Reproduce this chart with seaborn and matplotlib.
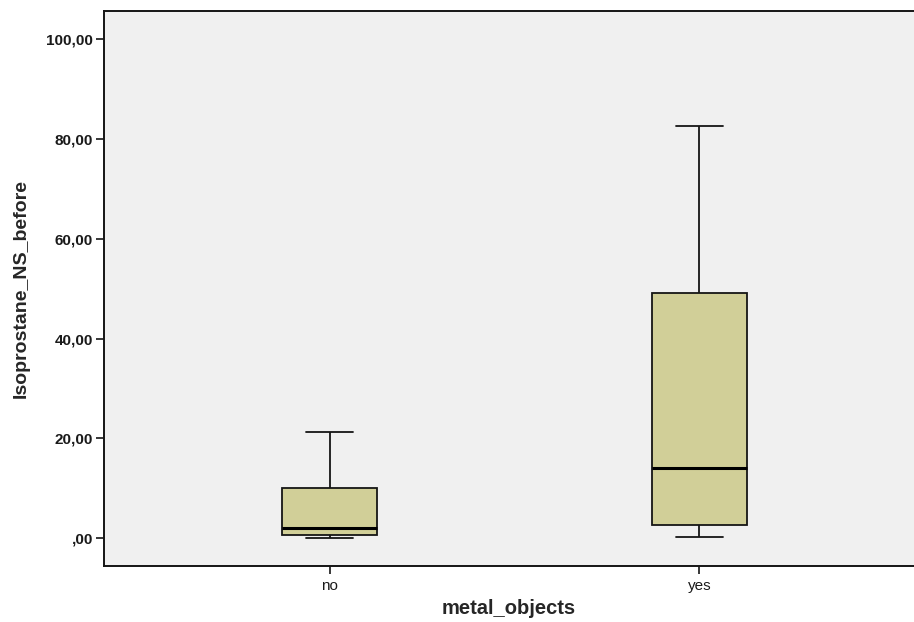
import numpy as np
import pandas as pd
import matplotlib
matplotlib.use("Agg")
import matplotlib.pyplot as plt
import seaborn as sns

# ================= DATA =================
# five-number summaries: min, Q1, median, Q3, max
groups = ["no", "yes"]
no_values = [0.0, 0.6, 2.0, 10.0, 21.2]
yes_values = [0.2, 2.6, 14.0, 49.1, 82.6]
y_ticks = [0, 20, 40, 60, 80, 100]
y_tick_labels = [",00", "20,00", "40,00", "60,00", "80,00", "100,00"]

df = pd.DataFrame({
    "metal_objects": ["no"] * len(no_values) + ["yes"] * len(yes_values),
    "Isoprostane_NS_before": no_values + yes_values,
})

# ================= STYLE =================
sns.set_style("white")
plt.rcParams["font.family"] = ["Liberation Sans", "DejaVu Sans"]

BOX_COLOR = "#D1CF98"
BG_COLOR = "#F0F0F0"
LINE_COLOR = "#151515"

fig = plt.figure(figsize=(9.14, 6.22), dpi=100)
ax = fig.add_axes([0.1138, 0.090, 0.8862, 0.892])
ax.set_facecolor(BG_COLOR)

sns.boxplot(
    data=df, x="metal_objects", y="Isoprostane_NS_before",
    order=groups, whis=np.inf, width=0.255,
    color=BOX_COLOR, saturation=1, linecolor=LINE_COLOR, linewidth=1.3,
    medianprops={"color": "black", "linewidth": 2.2},
    ax=ax,
)

ax.set_xlim(-0.61, 1.58)
ax.set_ylim(-5.6, 105.6)
ax.set_yticks(y_ticks)
ax.set_yticklabels(y_tick_labels)

ax.tick_params(axis="both", direction="out", length=6, width=1.2,
               color=LINE_COLOR, labelsize=11, labelcolor="#1A1A1A")
ax.tick_params(axis="y", left=True, pad=2)
ax.tick_params(axis="x", bottom=True, pad=3)
for lbl in ax.get_yticklabels():
    lbl.set_fontweight("bold")

for side in ["left", "bottom", "top"]:
    ax.spines[side].set_visible(True)
    ax.spines[side].set_color(LINE_COLOR)
    ax.spines[side].set_linewidth(1.4)
ax.spines["right"].set_visible(False)

ax.set_xlabel("metal_objects", fontsize=14.5, fontweight="bold", labelpad=5)
ax.set_ylabel("Isoprostane_NS_before", fontsize=14, fontweight="bold", labelpad=12)

plt.savefig("out.png", dpi=100)
plt.close()
